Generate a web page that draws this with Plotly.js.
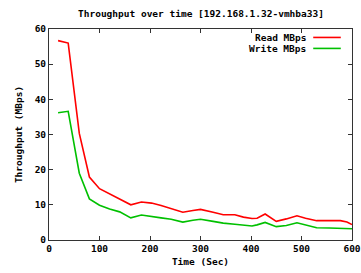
<!DOCTYPE html>
<html><head><meta charset="utf-8">
<script src="https://cdn.plot.ly/plotly-3.0.1.min.js"></script>
<style>html,body{margin:0;padding:0;background:#fff}#chart{width:361px;height:273px}</style>
</head><body><div id="chart"></div>
<script>
const chartTitle = "Throughput over time [192.168.1.32-vmhba33]";
const xTitle = "Time (Sec)";
const yTitle = "Throughput (MBps)";
const seriesNames = ["Read MBps", "Write MBps"];
const timeSec = [18, 38, 60, 80, 100, 120, 140, 162, 183, 203, 222, 242, 265, 285, 300, 325, 345, 368, 385, 402, 412, 428, 450, 470, 491, 508, 530, 555, 577, 590, 600];
const readMBps = [56.7, 56.0, 30.3, 17.9, 14.6, 13.1, 11.5, 10.0, 10.8, 10.5, 9.8, 8.9, 7.9, 8.4, 8.7, 7.9, 7.2, 7.2, 6.5, 6.1, 6.2, 7.4, 5.3, 6.0, 6.9, 6.2, 5.5, 5.5, 5.5, 5.1, 4.4];
const writeMBps = [36.2, 36.6, 19.0, 11.7, 9.9, 8.8, 8.0, 6.3, 7.1, 6.8, 6.3, 5.9, 5.1, 5.6, 5.9, 5.3, 4.8, 4.5, 4.3, 4.0, 4.3, 5.0, 3.8, 4.1, 4.9, 4.2, 3.5, 3.4, 3.4, 3.3, 3.2];
const xTicks = [0, 100, 200, 300, 400, 500, 600];
const yTicks = [0, 10, 20, 30, 40, 50, 60];
const colors = ["#ff0000", "#00c000"];

const font = {family: "DejaVu Sans Mono, monospace", size: 9.5, color: "#000", weight: "bold"};

const traces = [readMBps, writeMBps].map((ys, i) => ({
  x: timeSec, y: ys, type: "scatter", mode: "lines", name: seriesNames[i],
  line: {color: colors[i], width: 1.6}, showlegend: false
}));

const axisCommon = {
  showline: true, linecolor: "#333", linewidth: 1, mirror: "ticks",
  ticks: "inside", ticklen: 4, tickcolor: "#333", showgrid: false, zeroline: false,
  tickfont: font
};

const annotations = [{
  text: chartTitle, xref: "paper", yref: "paper", x: 0.5, y: 1, yshift: 8,
  xanchor: "center", yanchor: "bottom", showarrow: false, font: font
}];
const shapes = [];
seriesNames.forEach((n, i) => {
  const yp = 0.96 - i * 0.052;
  annotations.push({text: n, xref: "paper", yref: "paper", x: 0.855, y: yp,
    xanchor: "right", yanchor: "middle", showarrow: false, font: font});
  shapes.push({type: "line", xref: "paper", yref: "paper", x0: 0.872, x1: 0.963, y0: yp, y1: yp,
    line: {color: colors[i], width: 1.6}});
});

const layout = {
  width: 361, height: 273,
  margin: {l: 49, r: 9, t: 29, b: 33},
  paper_bgcolor: "#fff", plot_bgcolor: "#fff",
  font: font,
  xaxis: Object.assign({}, axisCommon, {range: [0, 600], tickvals: xTicks, ticktext: xTicks.map(String),
    title: {text: xTitle, font: font, standoff: 4}}),
  yaxis: Object.assign({}, axisCommon, {range: [0, 60], tickvals: yTicks, ticktext: yTicks.map(String),
    title: {text: yTitle, font: font, standoff: 10}}),
  annotations: annotations, shapes: shapes
};
Plotly.newPlot("chart", traces, layout, {displayModeBar: false, staticPlot: true});
</script></body></html>
